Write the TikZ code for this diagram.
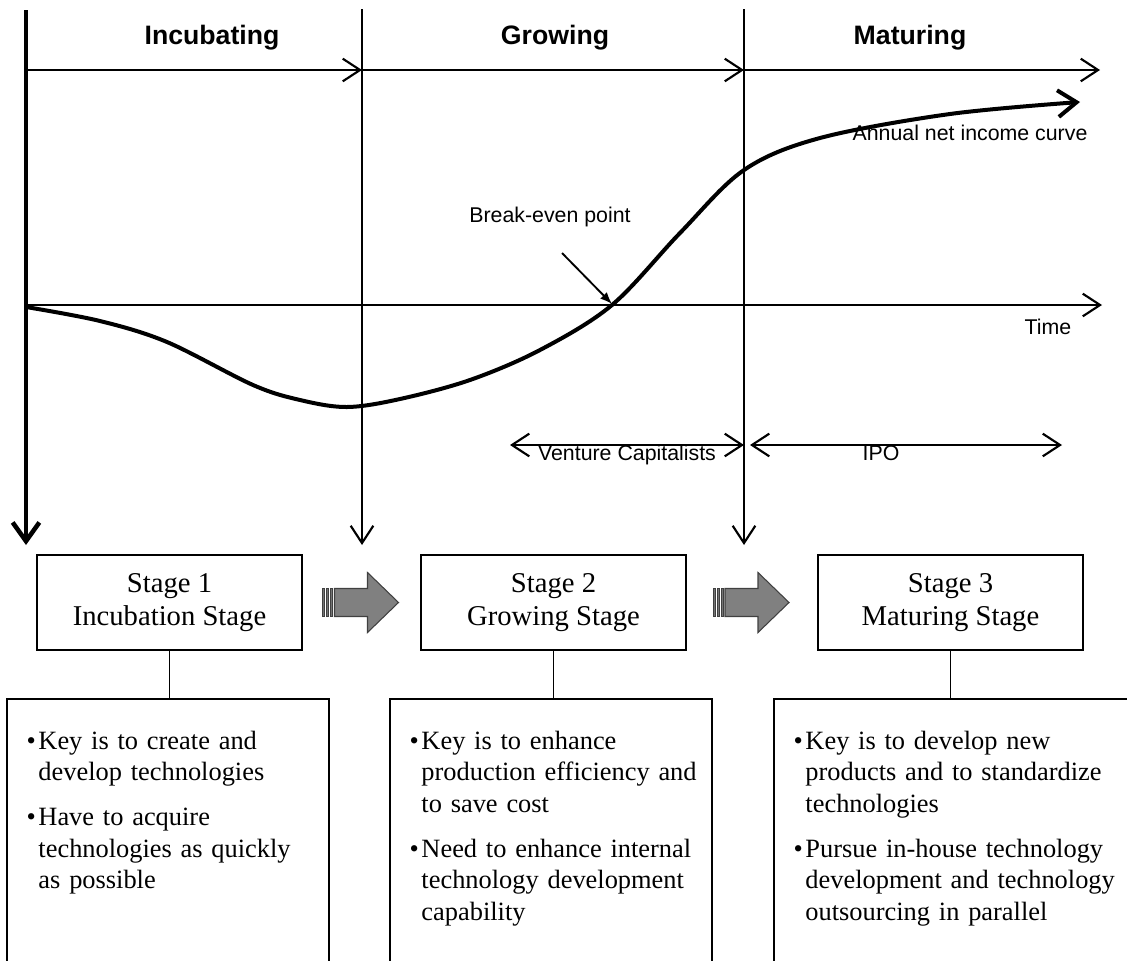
\documentclass[tikz,border=0pt]{standalone}
\usepackage{fontspec}
\setmainfont{Liberation Serif}
\setsansfont{Liberation Sans}
\usetikzlibrary{arrows.meta,calc,positioning}

\newcommand{\px}{0.75pt}
\newcommand{\bpoint}[1]{\par\leavevmode\llap{\textbullet\hspace{2pt}}#1\par}

\tikzset{
	barb/.tip={Straight Barb[length=13pt,width=17pt]},
	thinline/.style={line width=1.6pt},
	thickline/.style={line width=3.4pt},
	phasearrow/.style={thinline,-barb},
	fundarrow/.style={thinline,barb-barb},
	stagebox/.style={draw,line width=1.2pt,minimum width=198.75pt,minimum height=71.25pt,
		align=center,inner sep=0pt,font=\fontsize{21.5}{25}\selectfont},
	notebox/.style={draw,line width=1.2pt,minimum height=225pt,anchor=north},
	notetext/.style={anchor=north west,inner sep=0pt,align=left,text width=245pt,
		font=\fontsize{19.8}{23.75}\selectfont},
	phaselabel/.style={font=\sffamily\bfseries\fontsize{20}{24}\selectfont},
	curvelabel/.style={font=\sffamily\fontsize{16}{19}\selectfont},
	stagearrow/.pic={
		\foreach \bx in {-39,-35,-31}{
			\filldraw[fill=black!55,draw=black!75,line width=0.6pt] (\bx,-14) rectangle ++(2,28);
		}
		\filldraw[fill=black!50,draw=black!75,line width=0.8pt]
			(-27,-14) -- (6,-14) -- (6,-30) -- (37,0) -- (6,30) -- (6,14) -- (-27,14) -- cycle;
	}
}

\begin{document}
\begin{tikzpicture}[x=\px,y=-\px]
	\useasboundingbox (0,0) rectangle (1127,960);

	%phase borders
	\coordinate (top0) at (26,10);
	\coordinate (top1) at (362,9);
	\coordinate (top2) at (744,9);
	\coordinate (end0) at (26,545);
	\coordinate (end1) at (362,545);
	\coordinate (end2) at (744,545);
	\draw[thickline,-{Straight Barb[length=14pt,width=20pt]}] (top0) -- (end0);
	\foreach \i in {1,2}{
		\draw[phasearrow] (top\i) -- (end\i);
	}

	%phase arrows and names
	\coordinate (ph0) at (26,70);
	\coordinate (ph1) at (362,70);
	\coordinate (ph2) at (744,70);
	\coordinate (ph3) at (1100,70);
	\foreach \a/\b in {0/1,1/2,2/3}{
		\draw[phasearrow] (ph\a) -- (ph\b);
	}
	\node[phaselabel] (incub) at (212,38) {Incubating};
	\node[phaselabel] (grow) at (555,38) {Growing};
	\node[phaselabel] (mature) at (910,38) {Maturing};

	%time axis
	\coordinate (origin) at (26,305);
	\coordinate (tend) at (1102,305);
	\draw[phasearrow] (origin) -- (tend);
	\node[curvelabel] (time) at (1048,327) {Time};

	%income curve
	\draw[line width=3pt,line cap=round,-{Straight Barb[length=14pt,width=20pt]}]
		plot[smooth,tension=0.55] coordinates {(26,307) (100,321) (167,342) (253,385) (300,400)
		(347,407) (400,399) (470,380) (540,350) (612,305) (680,233) (744,170) (820,138)
		(950,114) (1080,102)};
	\node[curvelabel] (income) at (970,133) {Annual net income curve};

	%break-even point
	\coordinate (bep) at (612,304);
	\node[curvelabel] (betext) at (550,217) {Break-even point};
	\coordinate (bestart) at (562,253);
	\draw[line width=1.4pt,-{Latex[length=9pt,width=7pt]}] (bestart) -- (bep);

	%funding
	\coordinate (vc0) at (510,445);
	\coordinate (vc1) at (744,445);
	\coordinate (ipo0) at (750,445);
	\coordinate (ipo1) at (1062,445);
	\draw[fundarrow] (vc0) -- (vc1) node[curvelabel,midway,below=-4pt] (vc) {Venture Capitalists};
	\draw[fundarrow] (ipo0) -- (ipo1) node[curvelabel,pos=0.42,below=-4pt] (ipo) {IPO};

	%stages
	\node[stagebox] (s1) at (169.5,602.5) {Stage 1\\Incubation Stage};
	\node[stagebox] (s2) at (553.5,602.5) {Stage 2\\Growing Stage};
	\node[stagebox] (s3) at (950.5,602.5) {Stage 3\\Maturing Stage};
	\pic at ($(s1.east)!0.5!(s2.west)$) {stagearrow};
	\pic at ($(s2.east)!0.5!(s3.west)$) {stagearrow};

	%notes
	\node[notebox,minimum width=241.5pt] (n1) at (168,698) {};
	\node[notebox,minimum width=241.5pt] (n2) at (551,698) {};
	\node[notebox,minimum width=270pt] (n3) at (954,698) {};
	\foreach \i in {1,2,3}{
		\draw[thinline,line width=1.2pt] (s\i.south) -- (s\i.south |- n\i.north);
	}
	\node[notetext] (t1) at ([shift={(24pt,-14.5pt)}]n1.north west)
		{\bpoint{Key is to create and\\develop technologies}\vspace{9.75pt}
		\bpoint{Have to acquire\\technologies as quickly\\as possible}};
	\node[notetext] (t2) at ([shift={(24pt,-14.5pt)}]n2.north west)
		{\bpoint{Key is to enhance\\production efficiency and\\to save cost}\vspace{9.75pt}
		\bpoint{Need to enhance internal\\technology development\\capability}};
	\node[notetext] (t3) at ([shift={(24pt,-14.5pt)}]n3.north west)
		{\bpoint{Key is to develop new\\products and to standardize\\technologies}\vspace{9.75pt}
		\bpoint{Pursue in-house technology\\development and technology\\outsourcing in parallel}};
\end{tikzpicture}
\end{document}
